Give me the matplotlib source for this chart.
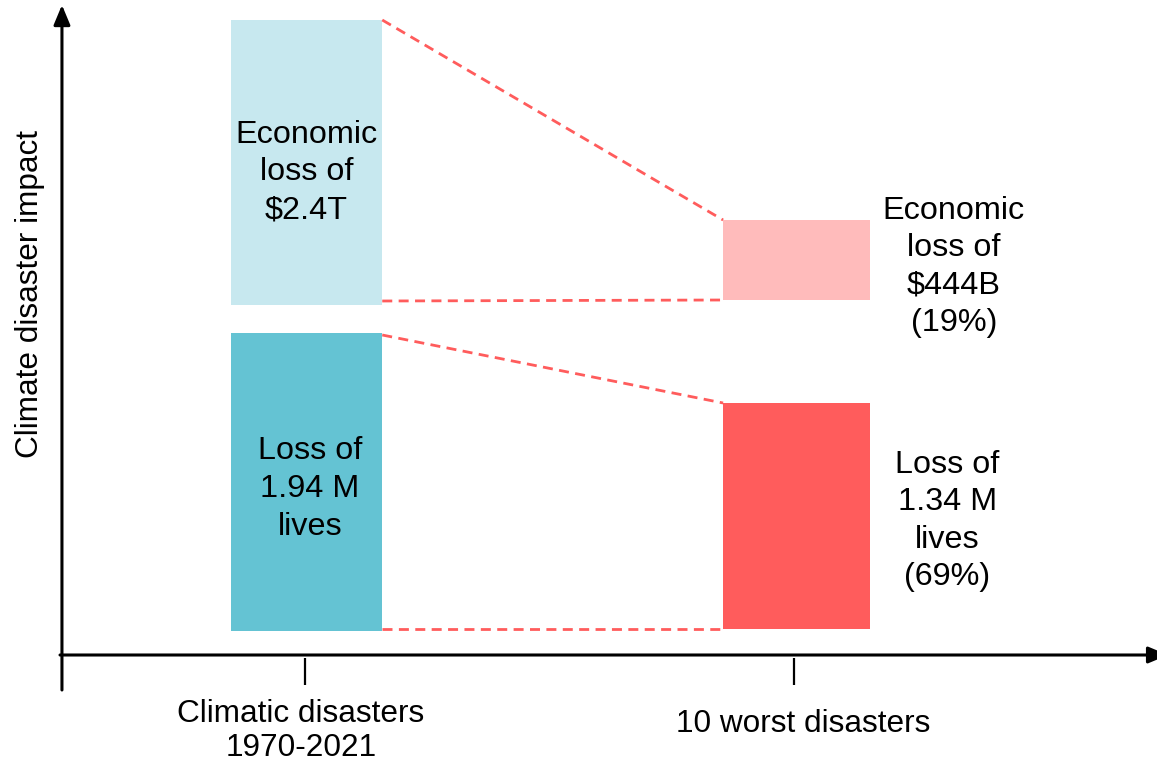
import matplotlib
matplotlib.use("Agg")
import matplotlib.pyplot as plt
from matplotlib.patches import FancyArrowPatch, Rectangle

plt.rcParams['font.family'] = ['Liberation Sans', 'DejaVu Sans']

# Category positions on the x axis
categories = ["Climatic disasters\n1970-2021", "10 worst disasters"]
cat_x = [0.0, 1.0]

# Bar extents in impact units (bottom, top) per category
econ_bottom = [3.50, 3.55]
econ_top = [6.35, 4.35]
lives_bottom = [0.24, 0.26]
lives_top = [3.22, 2.52]

econ_labels = ["Economic\nloss of\n$2.4T", "Economic\nloss of\n$444B\n(19%)"]
lives_labels = ["Loss of\n1.94 M\nlives", "Loss of\n1.34 M\nlives\n(69%)"]

econ_colors = ["#c7e8ef", "#ffbbbb"]
lives_colors = ["#64c3d3", "#ff5c5c"]
link_color = "#ff5c5c"

bar_width = [0.31, 0.30]
bar_offset = [0.003, 0.005]

fig = plt.figure(figsize=(11.57, 7.69), dpi=100)
ax = fig.add_axes([0, 0, 1, 1])
ax.set_xlim(-0.6237, 1.7423)
ax.set_ylim(-1.14, 6.55)
ax.axis("off")

# Bars
for i in range(2):
    left = cat_x[i] + bar_offset[i] - bar_width[i] / 2
    ax.add_patch(Rectangle((left, econ_bottom[i]), bar_width[i],
                           econ_top[i] - econ_bottom[i],
                           facecolor=econ_colors[i], edgecolor="none"))
    ax.add_patch(Rectangle((left, lives_bottom[i]), bar_width[i],
                           lives_top[i] - lives_bottom[i],
                           facecolor=lives_colors[i], edgecolor="none"))

# Dashed connectors from the left bars to the right bars
x_from = cat_x[0] + bar_offset[0] + bar_width[0] / 2
x_to = cat_x[1] + bar_offset[1] - bar_width[1] / 2
dash_kw = dict(color=link_color, lw=2.0, dashes=(3.6, 2.3))
ax.plot([x_from, x_to], [econ_top[0], econ_top[1]], **dash_kw)
ax.plot([x_from, x_to], [econ_bottom[0] + 0.04, econ_bottom[1]], **dash_kw)
ax.plot([x_from, x_to], [lives_top[0] - 0.02, lives_top[1]], **dash_kw)
ax.plot([x_from, x_to], [lives_bottom[0] + 0.02, lives_bottom[1]], **dash_kw)

# Bar annotations
fs = 23.3
ls = 1.33
ax.text(cat_x[0] + 0.003, (econ_top[0] + econ_bottom[0]) / 2 - 0.10,
        econ_labels[0], ha="center", va="center", fontsize=fs, linespacing=ls)
ax.text(cat_x[0] + 0.01, (lives_top[0] + lives_bottom[0]) / 2 - 0.07,
        lives_labels[0], ha="center", va="center", fontsize=fs, linespacing=ls)
ax.text(1.327, 3.88, econ_labels[1],
        ha="center", va="center", fontsize=fs, linespacing=ls)
ax.text(1.313, 1.34, lives_labels[1],
        ha="center", va="center", fontsize=fs, linespacing=ls)

# Axes drawn as arrows
axis_x = -0.497
arrow_style = "-|>,head_length=0.6,head_width=0.25"
ax.add_patch(FancyArrowPatch((axis_x, -0.35), (axis_x, 6.50),
                             arrowstyle=arrow_style, mutation_scale=20,
                             color="black", lw=2.2, shrinkA=0, shrinkB=0))
ax.add_patch(FancyArrowPatch((axis_x - 0.004, 0.0), (1.765, 0.0),
                             arrowstyle=arrow_style, mutation_scale=20,
                             color="black", lw=2.2, shrinkA=0, shrinkB=0))

# Category ticks and labels
afs = 22.7
for x in cat_x:
    ax.plot([x, x], [-0.03, -0.30], color="black", lw=1.6,
            solid_capstyle="butt")
ax.text(cat_x[0] - 0.008, -0.76, categories[0], ha="center", va="center",
        fontsize=afs, linespacing=1.2)
ax.text(cat_x[1] + 0.018, -0.69, categories[1], ha="center", va="center",
        fontsize=afs)

ax.text(-0.5617, 3.61, "Climate disaster impact", rotation=90,
        ha="center", va="center", fontsize=afs)

fig.savefig("out.png", dpi=100)
